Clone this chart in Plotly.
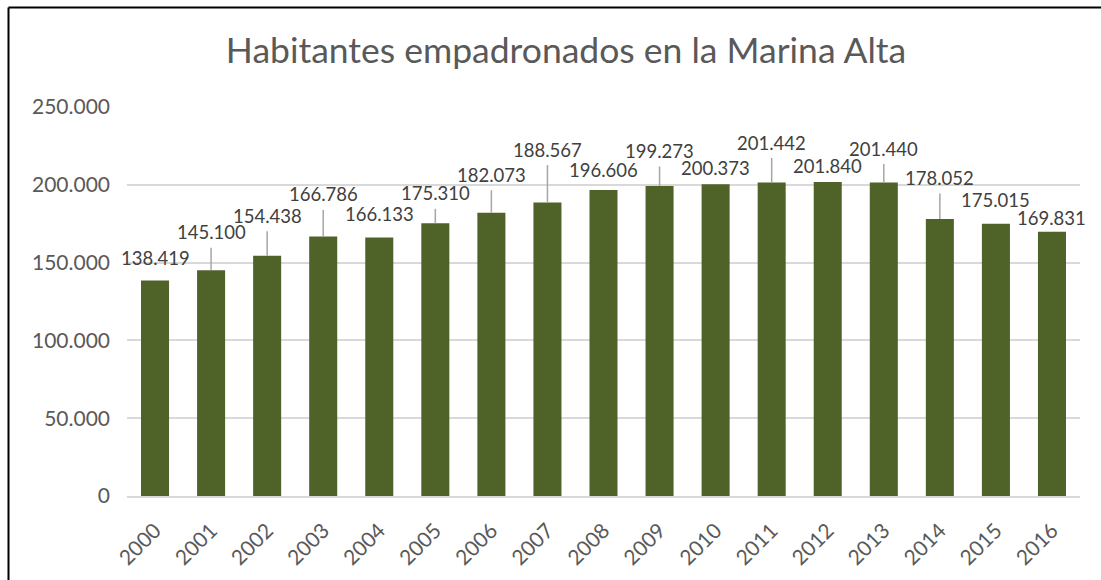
import plotly.graph_objects as go

# ---- data ----
years = ["2000", "2001", "2002", "2003", "2004", "2005", "2006", "2007", "2008",
         "2009", "2010", "2011", "2012", "2013", "2014", "2015", "2016"]
habitantes = [138419, 145100, 154438, 166786, 166133, 175310, 182073, 188567, 196606,
              199273, 200373, 201442, 201840, 201440, 178052, 175015, 169831]
y_ticks = [0, 50000, 100000, 150000, 200000, 250000]
title_text = "Habitantes empadronados en la Marina Alta"

# ---- label layout (pixel offsets of data labels above bar tops, leader line flags) ----
label_offsets = [23, 38, 40, 42, 24, 30, 38, 53, 20, 35, 16, 40, 16, 34, 41, 24, 14]
leader_lines = [False, True, True, True, False, True, True, True, False,
                True, False, True, False, True, True, False, False]


def fmt(v):
    return f"{v:,}".replace(",", ".")


BAR = "#4F6228"
GRID = "#D9D9D9"
TXT = "#595959"
LBL = "#404040"
FONT = "Lato"

W, H = 1101, 580
ML, MR, MT, MB = 127, 21, 107, 84

fig = go.Figure()
fig.add_trace(go.Bar(
    x=years, y=habitantes,
    marker=dict(color=BAR, line=dict(width=0)),
    hoverinfo="x+y",
))

annotations = []
for i, (v, off, lead) in enumerate(zip(habitantes, label_offsets, leader_lines)):
    if lead:
        annotations.append(dict(
            x=i, y=v, xref="x", yref="y", text=fmt(v),
            showarrow=True, arrowhead=0, arrowwidth=1.5, arrowcolor="#A6A6A6",
            ax=0, ay=-off, startstandoff=3, standoff=0,
            font=dict(family=FONT, size=18.5, color=LBL),
        ))
    else:
        annotations.append(dict(
            x=i, y=v, xref="x", yref="y", text=fmt(v),
            showarrow=False, yshift=off,
            font=dict(family=FONT, size=18.5, color=LBL),
        ))

# outer chart border: only the top and left edges fall inside the visible window
pw = W - ML - MR
ph = H - MT - MB
bx = (8.5 - ML) / pw
by = (H - MB - 7.5) / ph
right_edge = (W - ML) / pw
bottom_edge = -MB / ph
border = dict(color="black", width=2)

fig.update_layout(
    width=W, height=H,
    margin=dict(l=ML, r=MR, t=MT, b=MB, autoexpand=False),
    paper_bgcolor="white", plot_bgcolor="white",
    showlegend=False,
    bargap=0.5,
    title=dict(text=title_text, x=566 / W, xref="container", xanchor="center",
               y=1 - 51 / H, yref="container", yanchor="middle",
               font=dict(family=FONT, size=35.5, color=TXT)),
    xaxis=dict(type="category", range=[-0.5, len(years) - 0.5], tickangle=-45,
               showgrid=False, showline=True, linecolor=GRID, linewidth=2,
               ticks="", ticklabelstandoff=12,
               tickfont=dict(family=FONT, size=21, color=TXT)),
    yaxis=dict(range=[0, 250000], tickvals=y_ticks,
               ticktext=[fmt(t) for t in y_ticks],
               showgrid=True, gridcolor=GRID, gridwidth=2,
               zeroline=False, showline=False, ticks="",
               ticklabelstandoff=16,
               tickfont=dict(family=FONT, size=21, color=TXT)),
    annotations=annotations,
    shapes=[
        dict(type="line", xref="paper", yref="paper", x0=bx, x1=right_edge, y0=by, y1=by, line=border),
        dict(type="line", xref="paper", yref="paper", x0=bx, x1=bx, y0=by, y1=bottom_edge, line=border),
    ],
    font=dict(family=FONT),
)

fig.write_html("out.html",
               config={"displayModeBar": False},
               post_script="document.body.style.margin='0';document.body.style.overflow='hidden';")
